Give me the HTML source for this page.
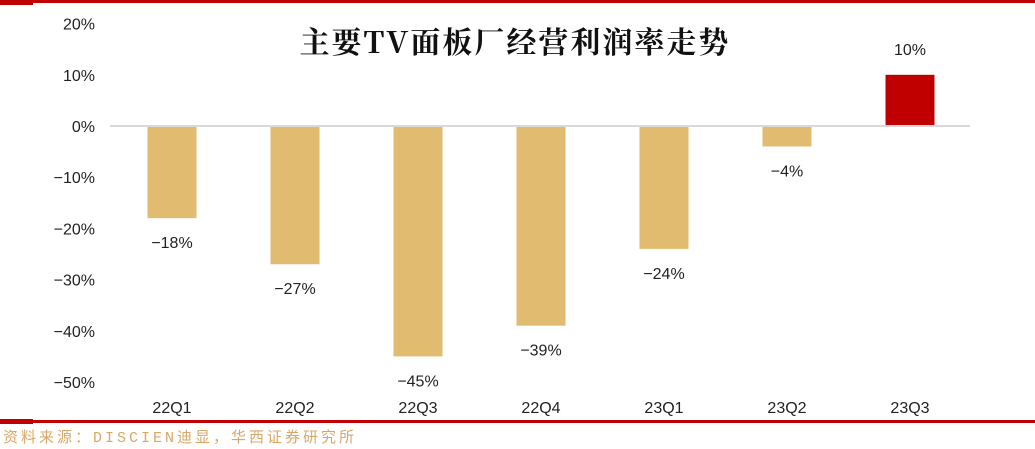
<!DOCTYPE html>
<html><head><meta charset="utf-8"><style>
body{margin:0;width:1035px;height:449px;background:#fff;overflow:hidden;position:relative;font-family:"Liberation Sans","Noto Sans CJK SC",sans-serif}
</style></head><body>
<svg id="c" width="1035" height="449" style="position:absolute;left:0;top:0">
<rect x="0" y="0" width="1035" height="3" fill="#c00000"/>
<rect x="0" y="0" width="33" height="5" fill="#c00000"/>
<rect x="0" y="420" width="1035" height="3" fill="#c00000"/>
<rect x="0" y="419" width="33" height="5" fill="#c00000"/>
<text x="515" y="53" text-anchor="middle" font-size="30" font-weight="bold" fill="#111" letter-spacing="2" font-family="'Noto Serif CJK SC','Liberation Serif',serif">主要TV面板厂经营利润率走势</text>
<text x="3" y="442" font-size="15" fill="#d9a766" letter-spacing="3" font-family="'Liberation Mono','Noto Sans CJK SC',monospace">资料来源：DISCIEN迪显，华西证券研究所</text>
<g id="g"></g>
</svg>
<script>
const categories=["22Q1","22Q2","22Q3","22Q4","23Q1","23Q2","23Q3"];
const values=[-18,-27,-45,-39,-24,-4,10];
const labels=["−18%","−27%","−45%","−39%","−24%","−4%","10%"];
const ticks=[20,10,0,-10,-20,-30,-40,-50];
const NS="http://www.w3.org/2000/svg";
const g=document.getElementById('g');
const y=v=>126-v*5.12;
const x=i=>172+i*123;
function mk(t,a){const e=document.createElementNS(NS,t);for(const k in a)e.setAttribute(k,a[k]);g.appendChild(e);return e;}
ticks.forEach(t=>{const e=mk('text',{x:95,y:y(t)+6,'text-anchor':'end','font-size':16,fill:'#222'});e.textContent=(t<0?'−'+(-t):t)+'%';

});
categories.forEach((c,i)=>{const v=values[i];
const r=mk('rect',{x:x(i)-24.5,y:Math.min(y(v),y(0)),width:49,height:Math.abs(y(v)-y(0)),fill:v>=0?'#c00000':'#e1bb70'});


const l=mk('text',{x:x(i),y:v>=0?y(v)-20:y(v)+30,'text-anchor':'middle','font-size':16,fill:'#222'});l.textContent=labels[i];


const cl=mk('text',{x:x(i),y:413,'text-anchor':'middle','font-size':16,fill:'#222'});cl.textContent=c;

});
const ax=mk('line',{x1:110,x2:970,y1:y(0),y2:y(0),stroke:'#d9d9d9','stroke-width':2});


</script>
</body></html>
